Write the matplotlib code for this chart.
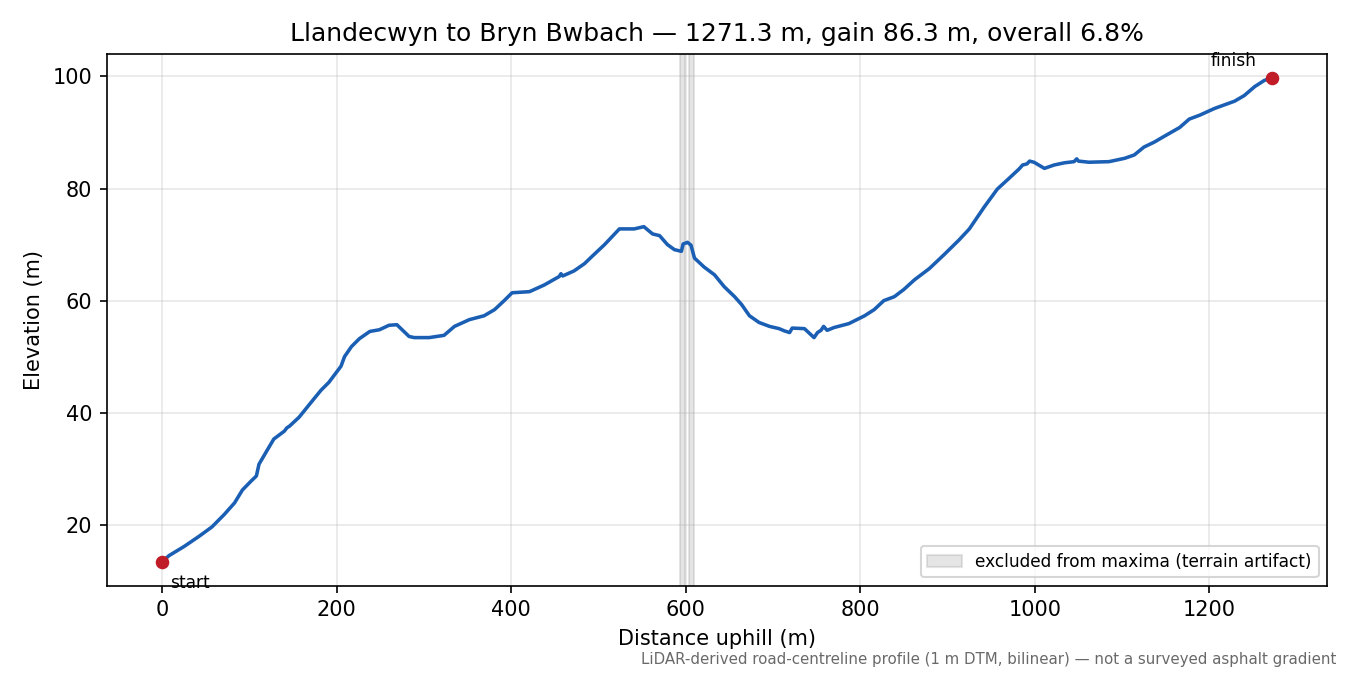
import numpy as np
import matplotlib
matplotlib.use("Agg")
import matplotlib.pyplot as plt

# profile (distance along road, elevation)
dist = [0, 8, 25, 42, 57, 71, 83, 92, 102, 108, 111, 120, 128, 140, 143, 146, 157,
        171, 182, 191, 205, 209, 217, 226, 238, 249, 260, 269, 277, 283, 289, 306,
        323, 335, 352, 369, 381, 392, 401, 421, 438, 455, 457, 459, 472, 484, 492,
        507, 524, 541, 552, 562, 570, 579, 587, 595, 597, 602, 606, 610, 621, 633,
        644, 656, 664, 673, 684, 696, 707, 713, 719, 722, 736, 747, 751, 755, 758,
        762, 770, 787, 805, 816, 827, 839, 850, 862, 879, 896, 913, 925, 942, 957,
        971, 982, 986, 991, 994, 999, 1011, 1022, 1034, 1045, 1048, 1050, 1062,
        1085, 1103, 1114, 1125, 1137, 1148, 1166, 1177, 1189, 1206, 1229, 1240,
        1252, 1263, 1271.3]
elev = [13.4, 14.5, 16.1, 17.9, 19.6, 21.8, 23.9, 26.2, 27.8, 28.7, 30.8, 33.2,
        35.3, 36.7, 37.3, 37.6, 39.2, 41.9, 44.0, 45.4, 48.3, 50.0, 51.8, 53.2,
        54.5, 54.8, 55.6, 55.7, 54.5, 53.6, 53.4, 53.4, 53.8, 55.4, 56.6, 57.3,
        58.4, 60.0, 61.4, 61.6, 62.8, 64.3, 64.8, 64.4, 65.3, 66.6, 67.8, 70.0,
        72.8, 72.8, 73.2, 71.9, 71.6, 70.0, 69.1, 68.8, 70.1, 70.4, 69.9, 67.6,
        66.0, 64.6, 62.5, 60.7, 59.3, 57.3, 56.1, 55.4, 55.0, 54.6, 54.3, 55.1,
        55.0, 53.4, 54.3, 54.7, 55.4, 54.7, 55.2, 55.9, 57.3, 58.4, 60.0, 60.7,
        62.0, 63.7, 65.7, 68.2, 70.8, 72.8, 76.7, 79.9, 81.9, 83.5, 84.2, 84.4,
        84.9, 84.7, 83.6, 84.2, 84.6, 84.8, 85.3, 84.9, 84.7, 84.8, 85.4, 86.0,
        87.4, 88.3, 89.3, 90.9, 92.4, 93.1, 94.3, 95.6, 96.6, 98.2, 99.3, 99.7]

# spans dropped when picking maxima
excl_start = [593, 604]
excl_end = [599, 610]

route = "Llandecwyn to Bryn Bwbach"

total = dist[-1]
gain = elev[-1] - elev[0]
grade = gain / total * 100

fig, ax = plt.subplots(figsize=(9, 4.5), dpi=150)
fig.subplots_adjust(left=0.079, right=0.983, top=0.92, bottom=0.132)

for i, (a, b) in enumerate(zip(excl_start, excl_end)):
    ax.axvspan(a, b, color="gray", alpha=0.2,
               label="excluded from maxima (terrain artifact)" if i == 0 else None)

ax.plot(dist, elev, color="#1a5fb4", lw=1.7, zorder=2)
ax.plot([dist[0], dist[-1]], [elev[0], elev[-1]], "o", color="#c01c28",
        ms=5.5, zorder=3)
ax.annotate("start", (dist[0], elev[0]), xytext=(4, -6), textcoords="offset points",
            ha="left", va="top", fontsize=8.2)
ax.annotate("finish", (dist[-1], elev[-1]), xytext=(-7, 4), textcoords="offset points",
            ha="right", va="bottom", fontsize=8.2)

ax.set_title(f"{route} — {total:.1f} m, gain {gain:.1f} m, overall {grade:.1f}%",
             fontsize=12)
ax.set_xlabel("Distance uphill (m)")
ax.set_ylabel("Elevation (m)")
ax.grid(True, alpha=0.3)
ax.legend(loc="lower right", fontsize=8.2)

fig.text(0.99, 0.012, "LiDAR-derived road-centreline profile (1 m DTM, bilinear) — "
         "not a surveyed asphalt gradient", ha="right", va="bottom", fontsize=7.2,
         color="dimgray")

fig.savefig("out.png", dpi=150)
